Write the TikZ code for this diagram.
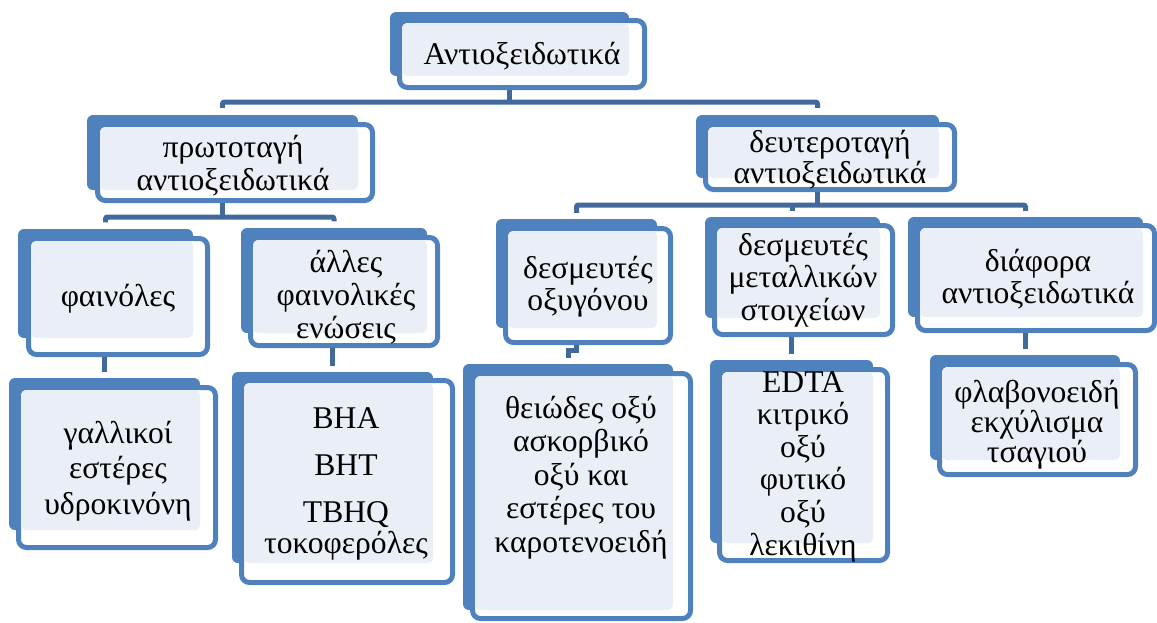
\documentclass[tikz,border=0pt]{standalone}
\usepackage{fontspec}
\setmainfont{Liberation Serif}
\usetikzlibrary{fit}
\definecolor{boxblue}{HTML}{4F81BD}
\definecolor{linkblue}{HTML}{41699C}
\definecolor{paleblue}{HTML}{EAEFF7}
\tikzset{
  backbox/.style={fill=boxblue, rounded corners=6pt, inner sep=0pt},
  frontbox/.style={draw=boxblue, fill=white, line width=5pt, rounded corners=8pt, inner sep=0pt},
  conn/.style={draw=linkblue, line width=5pt, rounded corners=2pt},
  % labels are placed by the baseline of their last line
  lbl/.style={font=\fontsize{31.6}{#1}\selectfont, align=center, anchor=base, inner sep=0pt, text=black},
  lbl/.default=33,
}
% #1 name; #2-#5 blue back panel (x1,y1,x2,y2); #6-#9 outer edge of the framed front panel
\newcommand\tierbox[9]{%
  \node[backbox, fit={(#2,#3) (#4,#5)}] (#1b) {};
  \node[frontbox, fit={(#6+2.5,#7+2.5) (#8-2.5,#9-2.5)}] (#1) {};
  \fill[paleblue, rounded corners=5pt] (#6+5,#7+5) rectangle (#4,#5);
}
\begin{document}
\begin{tikzpicture}[x=1pt,y=-1pt]
\useasboundingbox (0,0) rectangle (1157,622);

% boxes
\tierbox{root}{390}{12}{629}{76}{397}{18}{647}{90}
\tierbox{p1}{87}{115}{358}{190}{95}{122}{375}{203}
\tierbox{p2}{696}{115}{939}{178}{703}{122}{957}{192}
\tierbox{c1}{18}{229}{193}{338}{26}{236}{210}{357}
\tierbox{c2}{241}{228}{427}{333}{248}{235}{440}{348}
\tierbox{c3}{496}{219}{657}{328}{503}{226}{673}{345}
\tierbox{c4}{705}{217}{880}{318}{712}{223}{895}{337}
\tierbox{c5}{908}{217}{1143}{317}{915}{223}{1157}{333}
\tierbox{g1}{9}{378}{200}{530}{16}{385}{218}{550}
\tierbox{g2}{232}{372}{433}{563}{239}{378}{455}{585}
\tierbox{g3}{463}{364}{673}{610}{470}{371}{693}{621}
\tierbox{g4}{710}{360}{873}{543}{717}{367}{890}{563}
\tierbox{g5}{930}{355}{1120}{460}{937}{362}{1138}{477}

% labels
\node[lbl] (rootT) at (522,64) {Αντιοξειδωτικά};
\node[lbl] (p1T) at (233,190) {πρωτοταγή\\αντιοξειδωτικά};
\node[lbl=31] (p2T) at (830,183) {δευτεροταγή\\αντιοξειδωτικά};
\node[lbl] (c1T) at (118,306) {φαινόλες};
\node[lbl] (c2T) at (346,338) {άλλες\\φαινολικές\\ενώσεις};
\node[lbl=32] (c3T) at (588,310) {δεσμευτές\\οξυγόνου};
\node[lbl=32.5] (c4T) at (803,320) {δεσμευτές\\μεταλλικών\\στοιχείων};
\node[lbl=32] (c5T) at (1038,303) {διάφορα\\αντιοξειδωτικά};
\node[lbl=35.5] (g1T) at (118,514) {γαλλικοί\\εστέρες\\υδροκινόνη};
\node[lbl=31] (g2T) at (346,553) {BHA\\[16pt]BHT\\[16pt]TBHQ\\τοκοφερόλες};
\node[lbl=33.5] (g3T) at (581,552) {θειώδες οξύ\\ασκορβικό\\οξύ και\\εστέρες του\\καροτενοειδή};
\node[lbl=32.6] (g4T) at (803,555) {EDTA\\κιτρικό\\οξύ\\φυτικό\\οξύ\\λεκιθίνη};
\node[lbl=30] (g5T) at (1037,462) {φλαβονοειδή\\εκχύλισμα\\τσαγιού};

% connectors
\coordinate (bus0) at (0,102);
\coordinate (bus1) at (0,217);
\coordinate (bus2) at (0,205);
\coordinate (jog3) at (0,350);
\draw[conn] (rootb.center |- root.south) -- (rootb.center |- bus0);
\draw[conn] ([yshift=7pt]p1b.north) -- (p1b.north |- bus0) -- (p2b.north |- bus0) -- ([yshift=7pt]p2b.north);

\draw[conn] (p1b.center |- p1.south) -- (p1b.center |- bus1);
\draw[conn] ([yshift=6.5pt]c1b.north) -- (c1b.north |- bus1) -- (c2b.north |- bus1) -- ([yshift=6.5pt]c2b.north);

\draw[conn] (p2b.center |- p2.south) -- (p2b.center |- bus2);
\draw[conn] ([yshift=6pt]c3b.north) -- (c3b.north |- bus2) -- (c5b.north |- bus2) -- ([yshift=6pt]c5b.north);
\draw[conn] (c4b.north |- bus2) -- ([yshift=6pt]c4b.north);

\draw[conn] (g1b.center |- c1.south) -- ([yshift=6pt]g1b.north);
\draw[conn] (g2b.center |- c2.south) -- ([yshift=6pt]g2b.north);
\draw[conn, sharp corners] (c3b.center |- c3.south) -- (c3b.center |- jog3) -- (g3b.center |- jog3) -- ([yshift=6pt]g3b.north);
\draw[conn] (g4b.center |- c4.south) -- ([yshift=6pt]g4b.north);
\draw[conn] (g5b.center |- c5.south) -- ([yshift=6pt]g5b.north);
\end{tikzpicture}
\end{document}
